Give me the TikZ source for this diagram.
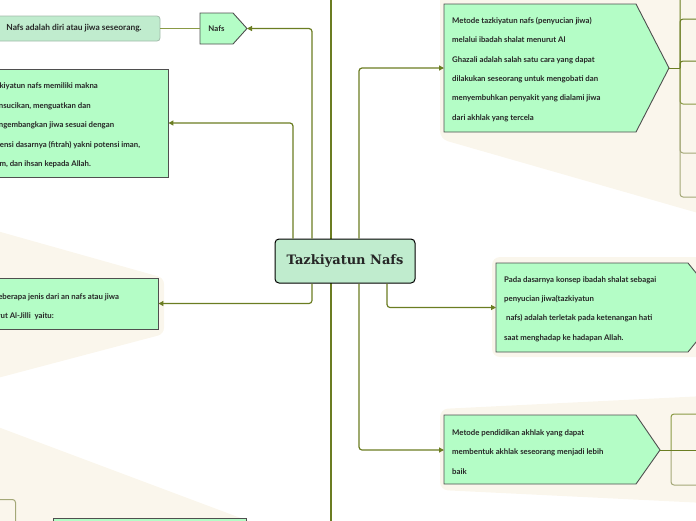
\documentclass[tikz,border=0pt]{standalone}
\usepackage{fontspec}
\setmainfont{Lato}
\newfontfamily\judulfont{DejaVu Serif}
\usetikzlibrary{calc,arrows.meta}

\definecolor{mint}{HTML}{B4FDC6}
\definecolor{hijaumuda}{HTML}{C0ECCE}
\definecolor{krem}{HTML}{FAF6EC}
\definecolor{zaitun}{HTML}{6B7D22}
\definecolor{zaitunsedang}{HTML}{8A9A45}
\definecolor{zaitunpucat}{HTML}{A4A878}
\definecolor{abutua}{HTML}{4F4F4F}

\begin{document}
\begin{tikzpicture}[x=1pt,y=-1pt,
  conn/.style={zaitun, line width=1.2pt, rounded corners=3pt, -{Triangle[length=5pt,width=5pt]}},
  cabang/.style={zaitun, line width=1pt, rounded corners=3pt},
  kotak/.style={fill=mint, draw=abutua, line width=0.9pt},
  isi/.style={font=\bfseries\fontsize{7.8}{19.4}\selectfont, align=left, anchor=west, inner sep=0pt, text=black!85}]
  \useasboundingbox (0,0) rectangle (696,520);
  \clip (0,0) rectangle (696,520);

  % latar krem tiap cabang
  \fill[krem, rounded corners=6pt] (-10,229) -- (164,278) -- (164,334) -- (-10,380) -- cycle;
  \fill[krem] (-10,424) -- (262,526) -- (-10,526) -- cycle;
  \fill[krem, rounded corners=8pt] (440,-10) -- (440,139) -- (705,215) -- (705,-10) -- cycle;
  \fill[krem, rounded corners=8pt] (492,257) rectangle (712,357);
  \fill[krem, rounded corners=8pt] (440,409) -- (705,396) -- (705,503) -- (440,490) -- cycle;

  % garis panjang di belakang akar
  \coordinate (atas) at (331,-5);
  \coordinate (bawah) at (331,525);
  \draw[zaitun, line width=1.2pt] (atas) -- (bawah);

  % akar
  \node[fill=hijaumuda, draw=black, line width=1pt, rounded corners=4pt,
    minimum width=140, minimum height=44, text=black!85,
    font=\judulfont\bfseries\fontsize{13}{13}\selectfont] (akar) at (345,261) {Tazkiyatun Nafs};

  % kiri atas: Nafs
  \node[fill=hijaumuda, draw=hijaumuda!55!gray, line width=0.8pt, rounded corners=3pt,
    minimum width=172, minimum height=25, text=black!85,
    font=\bfseries\fontsize{8.4}{9}\selectfont] (defnafs) at (74,28.5) {Nafs adalah diri atau jiwa seseorang.};
  \filldraw[kotak] (200,13) -- (233,13) -- (247,28.5) -- (233,44) -- (200,44) -- cycle;
  \node[minimum width=33, minimum height=31, inner sep=0pt, text=black!85,
    font=\bfseries\fontsize{7.8}{9}\selectfont] (nafs) at (216.5,28.5) {Nafs};
  \coordinate (nafsujung) at (247,28.5);
  \draw[zaitunsedang, line width=1pt] (defnafs.east) -- (nafs.west);

  % kiri: makna
  \node[kotak, minimum width=200, minimum height=108] (makna) at (68,123) {};
  \node[isi] (maknateks) at (-12,125.5) {Tazkiyatun nafs memiliki makna\\
    mensucikan, menguatkan dan\\
    mengembangkan jiwa sesuai dengan\\
    potensi dasarnya (fitrah) yakni potensi iman,\\
    islam, dan ihsan kepada Allah.};

  % kiri: jenis
  \node[kotak, minimum width=190, minimum height=51] (jenis) at (63,303.5) {};
  \node[isi] (jenisteks) at (-22,306.5) {Ada beberapa jenis dari an nafs atau jiwa\\
    menurut Al-Jilli\ \ yaitu:};

  % kiri bawah (terpotong)
  \node[kotak, minimum width=193, minimum height=40, anchor=north west] (bawahkiri) at (53,518) {};
  \node[draw=zaitunpucat, line width=1pt, rounded corners=3pt, minimum width=40,
    minimum height=41, anchor=north east] (anakkiri) at (16,499) {};

  % kanan atas
  \filldraw[kotak] (444,4) -- (636,4) -- (669,68) -- (636,132) -- (444,132) -- cycle;
  \coordinate (metode) at (444,68);
  \coordinate (metodeujung) at (669,68);
  \node[isi] (metodeteks) at (452,69.5) {Metode tazkiyatun nafs (penyucian jiwa)\\
    melalui ibadah shalat menurut Al\\
    Ghazali adalah salah satu cara yang dapat\\
    dilakukan seseorang untuk mengobati dan\\
    menyembuhkan penyakit yang dialami jiwa\\
    dari akhlak yang tercela};

  % kanan tengah
  \filldraw[kotak] (496,263) -- (688,263) -- (724,307.5) -- (688,352) -- (496,352) -- cycle;
  \coordinate (dasar) at (496,307.5);
  \node[isi] (dasarteks) at (504,309) {Pada dasarnya konsep ibadah shalat sebagai\\
    penyucian jiwa(tazkiyatun\\
    \ nafs) adalah terletak pada ketenangan hati\\
    saat menghadap ke hadapan Allah.};

  % kanan bawah
  \filldraw[kotak] (444,415) -- (636,415) -- (660,450) -- (636,484) -- (444,484) -- cycle;
  \coordinate (akhlak) at (444,450);
  \coordinate (akhlakujung) at (660,450);
  \node[isi] (akhlakteks) at (452,452) {Metode pendidikan akhlak yang dapat\\
    membentuk akhlak seseorang menjadi lebih\\
    baik};

  % anak-anak kanan atas
  \foreach \y in {153,197} \draw[cabang, zaitunpucat] (680,68) |- (705,\y);
  \draw[cabang, zaitunsedang] (680,68) |- (705,104);
  \foreach \y in {-40,19,61} \draw[cabang] (680,68) |- (705,\y);
  \draw[cabang] (metodeujung) -- (680,68);

  % anak-anak kanan bawah
  \draw[cabang, zaitunpucat] (671,450) |- (705,485);
  \draw[cabang, zaitunsedang] (671,450) |- (705,414);
  \draw[cabang] (akhlakujung) -- (705,450);

  % penghubung dari akar
  \draw[conn] ([xshift=-33pt]akar.north) |- (nafsujung);
  \draw[conn] ([xshift=-52pt]akar.north) |- (makna.east);
  \draw[conn] ([xshift=-33pt]akar.south) |- (jenis.east);
  \draw[conn] ([xshift=14pt]akar.north) |- (metode);
  \draw[conn] ([xshift=42pt]akar.south) |- (dasar);
  \draw[conn] ([xshift=14pt]akar.south) |- (akhlak);
\end{tikzpicture}
\end{document}
